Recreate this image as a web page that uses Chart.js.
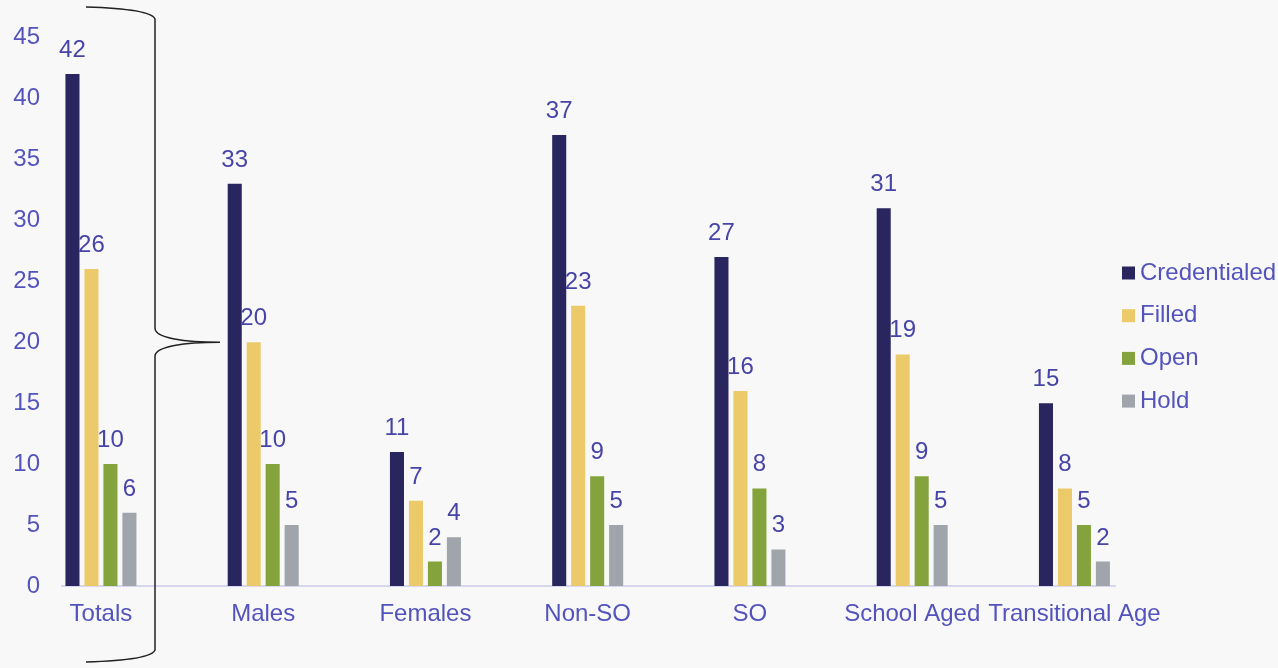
<!DOCTYPE html>
<html>
<head>
<meta charset="utf-8">
<script src="https://cdn.jsdelivr.net/npm/chart.js@4/dist/chart.umd.min.js"></script>
<style>
  html, body { margin: 0; padding: 0; background: #f8f8f8; }
  #wrap { width: 1278px; height: 668px; }
</style>
</head>
<body>
<div id="wrap"><canvas id="graphique"></canvas></div>
<script>
// Données
const categories = ['Totals', 'Males', 'Females', 'Non-SO', 'SO', 'School Aged', 'Transitional Age'];
const credentialed = [42, 33, 11, 37, 27, 31, 15];
const filled = [26, 20, 7, 23, 16, 19, 8];
const open = [10, 10, 2, 9, 8, 9, 5];
const hold = [6, 5, 4, 5, 3, 5, 2];
const yTicks = [0, 5, 10, 15, 20, 25, 30, 35, 40, 45];

const couleurTexte = '#5353bd';
const couleurValeurs = '#4744a8';
const police = { family: 'Liberation Sans, Arial, sans-serif', size: 24 };

function versPoints(valeurs) {
    return valeurs.map((v, i) => ({ x: i, y: v }));
}

// Étiquettes de valeurs au-dessus des barres
const pluginValeurs = {
    id: 'valeurs',
    afterDatasetsDraw(chart) {
        const ctx = chart.ctx;
        ctx.save();
        ctx.font = '24px ' + police.family;
        ctx.fillStyle = couleurValeurs;
        ctx.textAlign = 'center';
        ctx.textBaseline = 'alphabetic';
        chart.data.datasets.forEach((ds, d) => {
            chart.getDatasetMeta(d).data.forEach((barre, i) => {
                ctx.fillText(ds.data[i].y, barre.x, barre.y - 17);
            });
        });
        ctx.restore();
    }
};

// Légende maison à droite (carré collé au texte)
const pluginLegende = {
    id: 'legendeMaison',
    afterDraw(chart) {
        const ctx = chart.ctx;
        const x0 = chart.chartArea.right + 7;
        ctx.save();
        ctx.font = '24px ' + police.family;
        ctx.textBaseline = 'middle';
        ctx.textAlign = 'left';
        chart.data.datasets.forEach((ds, d) => {
            const y = 273 + d * 42.7;
            ctx.fillStyle = ds.backgroundColor;
            ctx.fillRect(x0, y - 6.5, 13, 13);
            ctx.fillStyle = couleurTexte;
            ctx.fillText(ds.label, x0 + 18, y);
        });
        ctx.restore();
    }
};

// Accolade à gauche (décor)
const pluginAccolade = {
    id: 'accolade',
    afterDraw(chart) {
        const ctx = chart.ctx;
        const xv = 155, yPointe = chart.scales.y.getPixelForValue(20), xPointe = 220;
        ctx.save();
        ctx.strokeStyle = '#222';
        ctx.lineWidth = 1.5;
        ctx.beginPath();
        ctx.moveTo(86, 7);
        ctx.bezierCurveTo(120, 8, 152, 11, xv, 19);
        ctx.lineTo(xv, yPointe - 14);
        ctx.bezierCurveTo(xv, yPointe - 4, 185, yPointe, xPointe, yPointe);
        ctx.moveTo(xPointe, yPointe);
        ctx.bezierCurveTo(185, yPointe, xv, yPointe + 4, xv, yPointe + 14);
        ctx.lineTo(xv, 650);
        ctx.bezierCurveTo(152, 658, 120, 661, 86, 662);
        ctx.stroke();
        ctx.restore();
    }
};

function serie(label, valeurs, couleur) {
    return {
        label: label,
        data: versPoints(valeurs),
        backgroundColor: couleur,
        categoryPercentage: 0.468,
        barPercentage: 0.74
    };
}

new Chart(document.getElementById('graphique'), {
    type: 'bar',
    data: {
        datasets: [
            serie('Credentialed', credentialed, '#29265f'),
            serie('Filled', filled, '#ecca6a'),
            serie('Open', open, '#84a33c'),
            serie('Hold', hold, '#9fa5ab')
        ]
    },
    options: {
        responsive: true,
        maintainAspectRatio: false,
        animation: false,
        layout: { padding: { top: 37.5, bottom: 33.2, left: 0, right: 163 } },
        plugins: {
            legend: { display: false },
            tooltip: { enabled: false }
        },
        scales: {
            x: {
                type: 'linear',
                offset: false,
                min: -0.24,
                max: 6.25,
                grid: { display: false },
                border: { display: true, color: '#d8d6ef', width: 2 },
                afterBuildTicks: (axe) => { axe.ticks = categories.map((c, i) => ({ value: i })); },
                ticks: {
                    color: couleurTexte,
                    font: police,
                    padding: 6,
                    maxRotation: 0,
                    autoSkip: false,
                    callback: (v) => categories[v]
                }
            },
            y: {
                min: 0,
                max: 45,
                grid: { display: false, drawTicks: false },
                border: { display: false },
                afterBuildTicks: (axe) => { axe.ticks = yTicks.map(v => ({ value: v })); },
                afterFit: (axe) => { axe.width = 62; },
                ticks: { color: couleurTexte, font: police, padding: 22 }
            }
        }
    },
    plugins: [pluginValeurs, pluginLegende, pluginAccolade]
});
</script>
</body>
</html>
